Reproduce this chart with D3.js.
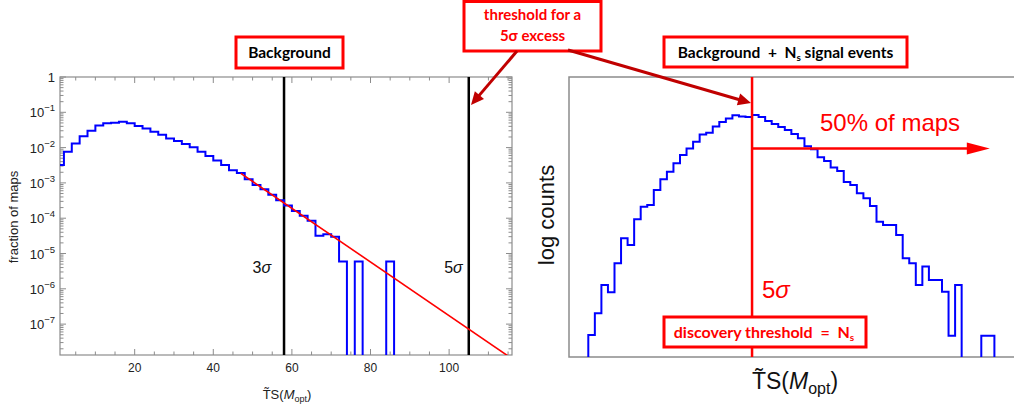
<!DOCTYPE html>
<html><head><meta charset="utf-8">
<script src="https://cdn.jsdelivr.net/npm/d3@7/dist/d3.min.js"></script>
<style>
body{margin:0;background:#fff;}
svg{display:block;}
.ax{font-family:"Liberation Sans",Arial,Helvetica,sans-serif;}
.bx{font-family:Lato,"Open Sans",sans-serif;font-weight:bold;white-space:pre;}
</style>
</head><body>
<svg id="c" width="1014" height="407"></svg>
<script>
// ---------------- data ----------------
// Left panel: background-only histogram (bin left edges, width 2)
const leftBinStarts = [0,2,4,6,8,10,12,14,16,18,20,22,24,26,28,30,32,34,36,38,40,42,44,46,48,50,52,54,56,58,60,62,64,66,68,70,72,74,76,78,80,82,84];
const leftFraction  = [3.2e-3,7.6e-3,1.3e-2,2.1e-2,3.0e-2,4.2e-2,4.9e-2,5.1e-2,5.4e-2,4.9e-2,4.1e-2,3.5e-2,2.8e-2,2.3e-2,1.8e-2,1.55e-2,1.26e-2,1.02e-2,7.6e-3,5.8e-3,4.3e-3,3.2e-3,2.3e-3,1.9e-3,1.26e-3,8.7e-4,6.6e-4,4.6e-4,3.2e-4,2.3e-4,1.6e-4,1.17e-4,8.5e-5,3.2e-5,3.5e-5,3.0e-5,5.9e-6,0,5.9e-6,0,0,0,5.9e-6];
const leftBinWidth = 2;
// exponential tail fit (straight line on log axis)
const fitX = [47, 116];
const fitY = [1.86e-3, 1.05e-8];
// sigma thresholds
const sigmaX = [58, 105];
const sigmaLabels = ["3", "5"];
const leftXTicks = [20,40,60,80,100];
const leftXMinor = [5,10,15,25,30,35,45,50,55,65,70,75,85,90,95,105,110,115];
const leftYTicks = [1,1e-1,1e-2,1e-3,1e-4,1e-5,1e-6,1e-7];
const leftYTickLabels = ["1","-1","-2","-3","-4","-5","-6","-7"];

// Right panel: background + signal histogram (log counts, arbitrary units, per bin)
const rightLogCounts = [0.79,1.56,2.57,2.31,3.35,4.24,4.00,4.92,5.37,5.43,5.96,6.35,6.62,6.92,7.21,7.45,7.69,7.95,8.01,8.23,8.39,8.52,8.63,8.59,8.57,8.64,8.57,8.43,8.32,8.21,8.11,7.96,7.81,7.53,7.42,7.13,7.00,6.77,6.64,6.25,6.14,5.85,5.67,5.39,4.83,4.71,4.71,4.36,3.53,3.35,2.57,3.23,2.75,2.75,2.33,0.76,2.57,0,0,0,0.76,0.76];
const rightThreshold = 25;     // bin edge of the 5 sigma threshold
const rightArrowEnd = 61.3;    // end of "50% of maps" arrow (bin units)
const rightArrowLevel = 7.45;  // height of the arrow (log-count units)

// ---------------- drawing ----------------
const svg = d3.select("#c");
const RED = "#ff0000", DARKRED = "#c00000", BLUE = "#0000ff", GRAY = "#8c8c8c";

// ===== LEFT PANEL =====
const L = {x0:60, x1:512, y0:77, y1:355};
const xL = d3.scaleLinear().domain([1,116]).range([L.x0, L.x1]);
const yL = d3.scaleLog().domain([Math.pow(10,-7.875), 1]).range([L.y1, L.y0]);

svg.append("clipPath").attr("id","clipL").append("rect")
  .attr("x",L.x0).attr("y",L.y0).attr("width",L.x1-L.x0).attr("height",L.y1-L.y0);

const gL = svg.append("g");
gL.append("rect").attr("x",L.x0).attr("y",L.y0).attr("width",L.x1-L.x0).attr("height",L.y1-L.y0)
  .attr("fill","none").attr("stroke",GRAY).attr("stroke-width",1.2);

const tk = gL.append("g").attr("stroke",GRAY).attr("stroke-width",1);
leftXTicks.forEach(v=>{
  const x=xL(v);
  tk.append("line").attr("x1",x).attr("x2",x).attr("y1",L.y1).attr("y2",L.y1-6);
  tk.append("line").attr("x1",x).attr("x2",x).attr("y1",L.y0).attr("y2",L.y0+6);
});
leftXMinor.forEach(v=>{
  const x=xL(v);
  tk.append("line").attr("x1",x).attr("x2",x).attr("y1",L.y1).attr("y2",L.y1-3.5);
  tk.append("line").attr("x1",x).attr("x2",x).attr("y1",L.y0).attr("y2",L.y0+3.5);
});
leftYTicks.forEach(v=>{
  const y=yL(v);
  tk.append("line").attr("x1",L.x0).attr("x2",L.x0+6).attr("y1",y).attr("y2",y);
  tk.append("line").attr("x1",L.x1).attr("x2",L.x1-6).attr("y1",y).attr("y2",y);
});
for (let k=1;k<=8;k++){
  for (let m=2;m<=9;m++){
    const v=m*Math.pow(10,-k);
    if (v < yL.domain()[0]) continue;
    const y=yL(v);
    tk.append("line").attr("x1",L.x0).attr("x2",L.x0+3.5).attr("y1",y).attr("y2",y);
    tk.append("line").attr("x1",L.x1).attr("x2",L.x1-3.5).attr("y1",y).attr("y2",y);
  }
}
leftXTicks.forEach(v=>{
  gL.append("text").attr("class","ax").attr("x",xL(v)).attr("y",L.y1+17)
    .attr("text-anchor","middle").attr("font-size",12).attr("fill","#222").text(v);
});
leftYTicks.forEach((v,i)=>{
  const t = gL.append("text").attr("class","ax").attr("x",L.x0-5).attr("y",yL(v)+5)
    .attr("text-anchor","end").attr("font-size",13).attr("fill","#222");
  if (i===0){ t.text(leftYTickLabels[i]); }
  else {
    t.append("tspan").text("10");
    t.append("tspan").attr("dy",-6).attr("font-size",9.5).text(leftYTickLabels[i].replace("-","\u2212"));
  }
});
gL.append("text").attr("class","ax").attr("transform","translate(18,217) rotate(-90)")
  .attr("text-anchor","middle").attr("font-size",13).attr("fill","#222").text("fraction of maps");
const xtL = gL.append("text").attr("class","ax").attr("x",287).attr("y",399)
  .attr("text-anchor","middle").attr("font-size",13).attr("fill","#222");
xtL.append("tspan").text("T\u0303S(");
xtL.append("tspan").attr("font-style","italic").text("M");
xtL.append("tspan").attr("dy",3).attr("font-size",9).text("opt");
xtL.append("tspan").attr("dy",-3).text(")");

const cl = gL.append("g").attr("clip-path","url(#clipL)");
sigmaX.forEach(v=>{
  cl.append("line").attr("x1",xL(v)).attr("x2",xL(v)).attr("y1",L.y0).attr("y2",L.y1)
    .attr("stroke","#000").attr("stroke-width",2.5);
});
function stepPoints(starts, vals, w, xs, ys, bottom){
  const pts=[[xs(starts[0]), bottom]];
  starts.forEach((s,i)=>{
    const y = vals[i] > 0 ? ys(vals[i]) : bottom;
    pts.push([xs(s), y]); pts.push([xs(s+w), y]);
  });
  pts.push([xs(starts[starts.length-1]+w), bottom]);
  return pts;
}
const ptsL = stepPoints(leftBinStarts, leftFraction, leftBinWidth, xL, yL, L.y1+10);
cl.append("path").attr("d", d3.line()(ptsL)).attr("fill","none")
  .attr("stroke",BLUE).attr("stroke-width",2).attr("stroke-linejoin","miter");
cl.append("path").attr("d", d3.line().x(d=>xL(d[0])).y(d=>yL(d[1]))(fitX.map((x,i)=>[x,fitY[i]])))
  .attr("fill","none").attr("stroke",RED).attr("stroke-width",1.6);
sigmaX.forEach((v,i)=>{
  const t = gL.append("text").attr("class","ax").attr("x", xL(v) - (i===0?13:6)).attr("y",273)
    .attr("text-anchor","end").attr("font-size",16).attr("fill","#111");
  t.append("tspan").text(sigmaLabels[i]);
  t.append("tspan").attr("font-style","italic").text("\u03c3");
});

// ===== RIGHT PANEL =====
const R = {x0:569, x1:1014, y0:77, y1:357};
const xR = d3.scaleLinear().domain([0,62]).range([588.3, 994.4]);
const yR = d3.scaleLinear().domain([0,10]).range([R.y1, R.y0]);
svg.append("clipPath").attr("id","clipR").append("rect")
  .attr("x",R.x0).attr("y",R.y0).attr("width",R.x1-R.x0).attr("height",R.y1-R.y0);
const gR = svg.append("g");
gR.append("path").attr("d",`M${R.x1},${R.y0}H${R.x0}V${R.y1}H${R.x1}`)
  .attr("fill","none").attr("stroke",GRAY).attr("stroke-width",1.5);
const binStartsR = rightLogCounts.map((d,i)=>i);
const ptsR = stepPoints(binStartsR, rightLogCounts, 1, xR, yR, R.y1+10);
gR.append("g").attr("clip-path","url(#clipR)").append("path").attr("d", d3.line()(ptsR))
  .attr("fill","none").attr("stroke",BLUE).attr("stroke-width",2);
gR.append("line").attr("x1",xR(rightThreshold)).attr("x2",xR(rightThreshold))
  .attr("y1",R.y0).attr("y2",R.y1).attr("stroke",RED).attr("stroke-width",2.5);
const ay = yR(rightArrowLevel), ax0 = xR(rightThreshold), ax1 = xR(rightArrowEnd);
gR.append("line").attr("x1",ax0).attr("x2",ax1-18).attr("y1",ay).attr("y2",ay)
  .attr("stroke",RED).attr("stroke-width",2.5);
gR.append("path").attr("d",`M${ax1},${ay}L${ax1-23},${ay-6}L${ax1-23},${ay+6}Z`).attr("fill",RED);
gR.append("text").attr("class","ax").attr("x",820).attr("y",131).attr("font-size",24)
  .attr("fill",RED).text("50% of maps");
const fs = gR.append("text").attr("class","ax").attr("x",762).attr("y",298).attr("font-size",24).attr("fill",RED);
fs.append("tspan").text("5");
fs.append("tspan").attr("font-style","italic").text("\u03c3");
gR.append("text").attr("class","ax").attr("transform","translate(554,215) rotate(-90)")
  .attr("text-anchor","middle").attr("font-size",22).attr("fill","#111").text("log counts");
const xtR = gR.append("text").attr("class","ax").attr("x",795).attr("y",389)
  .attr("text-anchor","middle").attr("font-size",23).attr("fill","#111");
xtR.append("tspan").text("T\u0303S(");
xtR.append("tspan").attr("font-style","italic").text("M");
xtR.append("tspan").attr("dy",5).attr("font-size",16).text("opt");
xtR.append("tspan").attr("dy",-5).text(")");

// ===== annotation boxes =====
function box(x,y,w,h){
  return svg.append("rect").attr("x",x).attr("y",y).attr("width",w).attr("height",h)
    .attr("fill","#fff").attr("stroke",RED).attr("stroke-width",3);
}
box(236,37,107,31);
svg.append("text").attr("class","bx").attr("x",289.5).attr("y",58).attr("text-anchor","middle")
  .attr("font-size",15.5).attr("fill","#000").text("Background");

box(664,37,243,30);
const t2 = svg.append("text").attr("class","bx").attr("x",785.5).attr("y",57.5).attr("text-anchor","middle")
  .attr("font-size",15.5).attr("fill","#000");
t2.append("tspan").text("Background  +  N");
t2.append("tspan").attr("dy",3).attr("font-size",10).text("s");
t2.append("tspan").attr("dy",-3).text(" signal events");

box(464,1.5,137,49.5);
svg.append("text").attr("class","bx").attr("x",532.5).attr("y",20).attr("text-anchor","middle")
  .attr("font-size",15).attr("fill",RED).text("threshold for a");
svg.append("text").attr("class","bx").attr("x",532.5).attr("y",41).attr("text-anchor","middle")
  .attr("font-size",15).attr("fill",RED).text("5\u03c3 excess");

box(664,317,202,30);
const t4 = svg.append("text").attr("class","bx").attr("x",764).attr("y",337.5).attr("text-anchor","middle")
  .attr("font-size",16).attr("fill",RED);
t4.append("tspan").text("discovery threshold  =  N");
t4.append("tspan").attr("dy",3).attr("font-size",10).text("s");

function arrow(x0,y0,x1,y1){
  const a=Math.atan2(y1-y0,x1-x0), L=13, W=6;
  const bx=x1-L*Math.cos(a), by=y1-L*Math.sin(a);
  svg.append("line").attr("x1",x0).attr("y1",y0).attr("x2",bx+2*Math.cos(a)).attr("y2",by+2*Math.sin(a))
    .attr("stroke",DARKRED).attr("stroke-width",3);
  svg.append("path").attr("d",`M${x1},${y1}L${bx-W*Math.sin(a)},${by+W*Math.cos(a)}L${bx+W*Math.sin(a)},${by-W*Math.cos(a)}Z`)
    .attr("fill",DARKRED);
}
arrow(517,51,471,105);
arrow(568,50,751,103);
</script>
</body></html>
